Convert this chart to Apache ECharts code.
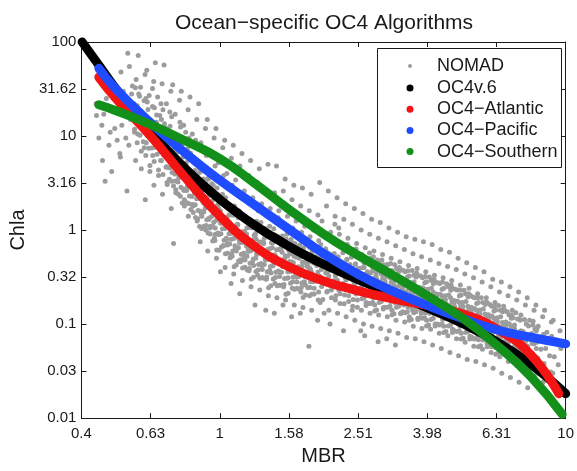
<!DOCTYPE html>
<html><head><meta charset="utf-8">
<script src="https://cdn.jsdelivr.net/npm/echarts@6/dist/echarts.min.js"></script>
<style>html,body{margin:0;padding:0;background:#fff}#c{width:577px;height:471px}</style>
</head><body><div id="c"></div>
<script>
const chartTitle = 'Ocean\u2212specific OC4 Algorithms';
const xName = 'MBR';
const yName = 'Chla';
const xTickLabels = ['0.4','0.63','1','1.58','2.51','3.98','6.31','10'];
const yTickLabels = ['0.01','0.03','0.1','0.32','1','3.16','10','31.62','100'];
const seriesNames = ['NOMAD','OC4v.6','OC4\u2212Atlantic','OC4\u2212Pacific','OC4\u2212Southern'];

// NOMAD in-situ points [MBR, Chla]
const nomadLeft = [
[0.44,16.5],[0.456,13],[0.447,9.5],[0.458,5.5],[0.439,22],
[0.466,3.3],[0.482,11],[0.47,25],[0.478,8],[0.462,17],
[0.489,36],[0.511,20],[0.497,12],[0.514,6.5],[0.492,28],[0.505,9],[0.487,4.2],
[0.518,48],[0.542,76],[0.526,30],[0.545,18],[0.521,13],[0.535,9.5],[0.516,6],[0.539,2.6],[0.528,22],
[0.548,55],[0.573,40],[0.556,28],[0.577,21],[0.552,15],[0.567,11],[0.546,8],[0.571,5.5],[0.559,34],[0.574,19],
[0.581,72],[0.608,45],[0.59,33],[0.611,25],[0.585,19],[0.601,14],[0.579,10.5],[0.605,7.5],[0.593,4.5],[0.609,2.1],[0.583,28],[0.599,17],
[0.615,50],[0.644,38],[0.625,27],[0.647,20],[0.62,15],[0.636,11],[0.613,8.5],[0.64,6.2],[0.628,4.2],[0.645,3],[0.617,23],[0.634,13],[0.639,32],
[0.651,60],[0.681,36],[0.661,26],[0.685,19],[0.656,14],[0.673,10],[0.649,7.6],[0.678,5.5],[0.665,3.8],[0.683,2.4],[0.653,12],[0.671,16.5],[0.676,22],
[0.69,57],[0.722,30],[0.701,22],[0.726,16],[0.695,11.5],[0.714,8.5],[0.688,6.3],[0.719,4.6],[0.704,3.2],[0.724,1.7],[0.692,13.5],[0.711,9.8],[0.717,18],
[0.731,35],[0.765,24],[0.743,17],[0.77,12.5],[0.737,9.2],[0.756,6.8],[0.729,5],[0.761,3.6],[0.746,2.5],[0.767,14],[0.734,10.5],[0.753,7.8],[0.735,0.72],
[0.774,30],[0.81,19],[0.786,13],[0.815,9.5],[0.78,7],[0.8,5.2],[0.772,3.9],[0.806,2.9],[0.79,2.1],[0.811,1.4],[0.777,8.2],[0.797,11],[0.804,4.5],[0.783,6],
[0.82,26],[0.858,15],[0.833,10.5],[0.863,7.6],[0.826,5.8],[0.848,4.3],[0.817,3.3],[0.854,2.5],[0.837,1.8],[0.86,1.25],[0.823,6.6],[0.845,3.7],[0.851,9],
[0.869,22],[0.909,12],[0.882,8.5],[0.914,6.2],[0.875,4.6],[0.898,3.5],[0.866,2.6],[0.904,1.9],[0.887,1.4],[0.911,1.0],[0.871,5.3],[0.895,3],[0.902,2.2],[0.878,0.75],
[0.92,15],[0.963,9.5],[0.935,6.5],[0.969,4.8],[0.927,3.6],[0.952,2.7],[0.918,2.0],[0.958,1.5],[0.939,1.1],[0.965,0.82],[0.923,0.6],[0.948,3.1],[0.955,2.3],[0.931,1.3]
];
const nomadMid = [
[0.975,12],[1.02,7.5],[0.99,5.2],[1.026,3.8],[0.982,2.8],[1.008,2.1],[0.972,1.6],[1.015,1.2],[0.995,0.9],[1.022,0.68],[0.978,0.5],[1.004,0.36],[1.012,1.4],[0.986,1.85],[1.018,2.4],[0.97,1.05],
[1.033,9],[1.08,5.8],[1.048,4],[1.087,3],[1.04,2.2],[1.067,1.65],[1.029,1.25],[1.075,0.95],[1.054,0.72],[1.082,0.55],[1.036,0.4],[1.063,1.45],[1.072,1.05],[1.044,0.82],[1.078,0.27],
[1.094,8],[1.144,4.8],[1.111,3.4],[1.151,2.4],[1.102,1.8],[1.131,1.35],[1.091,1.0],[1.139,0.78],[1.116,0.6],[1.147,0.46],[1.097,0.34],[1.126,1.15],[1.136,0.88],[1.106,0.68],[1.142,0.21],
[1.159,6.5],[1.213,3.8],[1.177,2.6],[1.22,1.9],[1.168,1.4],[1.198,1.05],[1.156,0.8],[1.207,0.62],[1.183,0.48],[1.215,0.37],[1.163,0.29],[1.194,0.9],[1.203,0.7],[1.172,0.55],[1.21,1.2],
[1.228,5.5],[1.284,3.2],[1.246,2.2],[1.292,1.6],[1.236,1.2],[1.269,0.92],[1.224,0.7],[1.278,0.55],[1.253,0.42],[1.287,0.33],[1.231,0.25],[1.264,0.16],[1.274,0.8],[1.241,0.62],[1.282,1.05],
[1.301,4.5],[1.361,2.7],[1.321,1.9],[1.369,1.4],[1.31,1.05],[1.345,0.82],[1.297,0.63],[1.354,0.49],[1.327,0.38],[1.363,0.3],[1.305,0.23],[1.339,0.72],[1.35,0.56],[1.315,1.2],[1.358,0.14],
[1.378,5],[1.441,2.5],[1.399,1.7],[1.45,1.25],[1.388,0.95],[1.424,0.74],[1.373,0.58],[1.434,0.45],[1.406,0.35],[1.444,0.27],[1.382,0.2],[1.419,0.65],[1.43,0.52],[1.393,1.1],[1.438,0.13],
[1.459,4.8],[1.526,2.6],[1.481,1.6],[1.535,1.15],[1.469,0.86],[1.508,0.67],[1.454,0.52],[1.518,0.41],[1.489,0.32],[1.529,0.25],[1.463,0.19],[1.502,0.74],[1.514,0.58],[1.475,1.35],[1.523,0.16],
[1.545,3.5],[1.617,2.1],[1.569,1.4],[1.626,1.05],[1.556,0.8],[1.598,0.63],[1.541,0.5],[1.609,0.4],[1.577,0.31],[1.62,0.24],[1.55,0.18],[1.591,0.7],[1.604,0.56],[1.563,0.9],[1.613,0.12],
[1.637,3],[1.713,1.8],[1.662,1.25],[1.723,0.95],[1.649,0.72],[1.692,0.57],[1.632,0.45],[1.704,0.36],[1.671,0.28],[1.716,0.22],[1.642,0.16],[1.686,0.62],[1.699,0.5],[1.656,0.4],[1.709,0.13],
[1.734,2.8],[1.814,1.6],[1.76,1.1],[1.824,0.85],[1.746,0.65],[1.792,0.52],[1.728,0.41],[1.805,0.33],[1.769,0.26],[1.817,0.2],[1.739,0.15],[1.785,0.56],[1.799,0.45],[1.753,0.36],[1.81,0.058],
[1.837,2.4],[1.922,1.45],[1.865,1.0],[1.933,0.77],[1.85,0.6],[1.899,0.48],[1.831,0.38],[1.912,0.3],[1.875,0.24],[1.925,0.18],[1.843,0.14],[1.892,0.52],[1.907,0.42],[1.858,0.33],[1.918,0.11],
[1.945,3.2],[2.035,1.8],[1.975,1.25],[2.047,0.9],[1.959,0.7],[2.011,0.55],[1.939,0.44],[2.025,0.35],[1.985,0.28],[2.039,0.22],[1.951,0.17],[2.003,0.13],[2.019,0.48],[1.967,0.38],[2.031,0.6]
];
const nomadRight = [
[2.06,2.6],[2.155,1.4],[2.092,0.95],[2.168,0.72],[2.075,0.56],[2.13,0.45],[2.054,0.36],[2.145,0.29],[2.102,0.23],[2.159,0.18],[2.067,0.14],[2.121,0.5],[2.138,0.4],[2.083,0.1],[2.151,1.15],
[2.183,2.2],[2.284,1.3],[2.217,0.9],[2.297,0.68],[2.199,0.52],[2.257,0.42],[2.176,0.34],[2.273,0.27],[2.228,0.21],[2.288,0.165],[2.19,0.13],[2.248,0.46],[2.266,0.37],[2.208,1.05],[2.279,0.085],
[2.312,1.9],[2.418,1.15],[2.347,0.82],[2.433,0.62],[2.328,0.48],[2.39,0.39],[2.305,0.31],[2.407,0.25],[2.359,0.2],[2.423,0.155],[2.319,0.12],[2.381,0.43],[2.4,0.34],[2.338,0.7],[2.414,0.14],
[2.449,1.7],[2.562,1.0],[2.487,0.72],[2.577,0.55],[2.467,0.43],[2.532,0.35],[2.442,0.28],[2.55,0.225],[2.499,0.18],[2.567,0.14],[2.457,0.11],[2.522,0.39],[2.542,0.31],[2.477,0.63],[2.557,0.085],
[2.594,1.5],[2.714,0.9],[2.634,0.65],[2.73,0.5],[2.613,0.4],[2.682,0.32],[2.587,0.26],[2.701,0.21],[2.648,0.17],[2.72,0.13],[2.603,0.1],[2.672,0.36],[2.693,0.29],[2.624,0.075],[2.709,0.57],
[2.748,1.3],[2.874,0.82],[2.79,0.6],[2.891,0.46],[2.767,0.37],[2.841,0.3],[2.739,0.245],[2.86,0.2],[2.804,0.16],[2.88,0.125],[2.756,0.095],[2.829,0.33],[2.852,0.27],[2.779,0.52],[2.869,0.065],
[2.91,1.2],[3.045,0.75],[2.955,0.55],[3.063,0.43],[2.931,0.34],[3.009,0.28],[2.901,0.225],[3.03,0.185],[2.97,0.15],[3.051,0.12],[2.919,0.09],[2.997,0.31],[3.021,0.25],[2.943,0.48],[3.039,0.07],
[3.083,1.05],[3.225,0.68],[3.13,0.5],[3.244,0.39],[3.105,0.31],[3.187,0.255],[3.074,0.21],[3.209,0.17],[3.146,0.14],[3.232,0.11],[3.092,0.085],[3.175,0.28],[3.2,0.23],[3.118,0.44],[3.219,0.06],
[3.266,0.95],[3.417,0.62],[3.317,0.46],[3.437,0.36],[3.29,0.29],[3.377,0.24],[3.256,0.195],[3.4,0.16],[3.333,0.13],[3.424,0.105],[3.276,0.08],[3.363,0.26],[3.39,0.215],[3.303,0.4],[3.41,0.175],
[3.459,0.85],[3.619,0.56],[3.513,0.42],[3.64,0.33],[3.484,0.27],[3.576,0.22],[3.449,0.18],[3.601,0.15],[3.53,0.12],[3.626,0.095],[3.47,0.072],[3.562,0.24],[3.591,0.2],[3.498,0.37],[3.612,0.14],
[3.664,0.8],[3.833,0.52],[3.72,0.39],[3.856,0.31],[3.69,0.25],[3.788,0.205],[3.653,0.17],[3.814,0.14],[3.739,0.115],[3.841,0.09],[3.675,0.07],[3.773,0.225],[3.803,0.185],[3.705,0.35],[3.826,0.13],
[3.881,0.75],[4.061,0.48],[3.941,0.36],[4.085,0.29],[3.909,0.235],[4.013,0.19],[3.87,0.16],[4.041,0.13],[3.961,0.11],[4.069,0.088],[3.894,0.065],[3.997,0.21],[4.029,0.175],[3.925,0.32],[4.053,0.145],
[4.112,0.7],[4.301,0.44],[4.175,0.33],[4.327,0.27],[4.141,0.22],[4.251,0.18],[4.099,0.15],[4.28,0.125],[4.196,0.1],[4.31,0.08],[4.124,0.06],[4.234,0.195],[4.268,0.165],[4.158,0.3],[4.293,0.135],
[4.355,0.62],[4.556,0.41],[4.422,0.31],[4.583,0.25],[4.387,0.2],[4.503,0.165],[4.342,0.14],[4.534,0.115],[4.445,0.095],[4.565,0.075],[4.369,0.055],[4.485,0.18],[4.521,0.15],[4.404,0.28],[4.547,0.125],
[4.614,0.58],[4.827,0.38],[4.685,0.29],[4.855,0.23],[4.647,0.19],[4.77,0.155],[4.6,0.13],[4.803,0.105],[4.708,0.088],[4.836,0.07],[4.628,0.05],[4.751,0.17],[4.789,0.14],[4.666,0.26],[4.817,0.115],
[4.887,0.5],[5.112,0.34],[4.962,0.26],[5.142,0.21],[4.922,0.17],[5.052,0.14],[4.872,0.12],[5.087,0.098],[4.987,0.08],[5.122,0.064],[4.902,0.046],[5.032,0.155],[5.072,0.128],[4.942,0.23],[5.102,0.108],
[5.176,0.45],[5.415,0.31],[5.256,0.24],[5.447,0.19],[5.213,0.155],[5.351,0.13],[5.16,0.11],[5.389,0.09],[5.282,0.074],[5.426,0.058],[5.192,0.042],[5.33,0.14],[5.373,0.118],[5.235,0.21],[5.405,0.1],
[5.482,0.4],[5.735,0.28],[5.567,0.21],[5.769,0.17],[5.522,0.14],[5.668,0.118],[5.466,0.1],[5.707,0.083],[5.595,0.068],[5.747,0.054],[5.499,0.04],[5.645,0.128],[5.69,0.108],[5.545,0.19],[5.725,0.092],
[5.808,0.36],[6.076,0.25],[5.897,0.19],[6.112,0.155],[5.85,0.128],[6.005,0.107],[5.79,0.09],[6.046,0.075],[5.927,0.062],[6.088,0.05],[5.826,0.037],[5.981,0.116],[6.028,0.098],[5.874,0.17],[6.064,0.083],
[6.152,0.3],[6.436,0.22],[6.247,0.17],[6.474,0.14],[6.196,0.115],[6.36,0.096],[6.133,0.081],[6.405,0.068],[6.278,0.056],[6.449,0.045],[6.171,0.034],[6.335,0.105],[6.386,0.088],[6.222,0.155],[6.424,0.075],
[6.516,0.28],[6.817,0.2],[6.616,0.155],[6.857,0.126],[6.563,0.104],[6.736,0.087],[6.496,0.073],[6.783,0.061],[6.65,0.05],[6.83,0.04],[6.536,0.03],[6.71,0.095],[6.763,0.08],[6.59,0.14],
[6.902,0.25],[7.221,0.18],[7.008,0.14],[7.263,0.113],[6.952,0.093],[7.136,0.078],[6.881,0.066],[7.185,0.055],[7.044,0.045],[7.235,0.036],[6.923,0.027],[7.107,0.085],[7.164,0.072],[6.98,0.125],
[7.312,0.22],[7.649,0.16],[7.424,0.125],[7.694,0.1],[7.364,0.083],[7.559,0.07],[7.289,0.059],[7.611,0.049],[7.461,0.04],[7.664,0.032],[7.334,0.024],[7.529,0.076],[7.589,0.064],[7.394,0.11],
[7.744,0.19],[8.102,0.14],[7.864,0.11],[8.15,0.088],[7.8,0.073],[8.007,0.062],[7.72,0.052],[8.062,0.043],[7.903,0.035],[8.118,0.028],[7.768,0.021],[7.975,0.067],[8.04,0.098],
[8.204,0.16],[8.582,0.12],[8.33,0.095],[8.633,0.078],[8.263,0.064],[8.481,0.054],[8.179,0.045],[8.54,0.037],[8.372,0.03],[8.599,0.024],[8.229,0.085],
[8.69,0.14],[9.091,0.105],[8.824,0.082],[9.145,0.067],[8.753,0.055],[8.984,0.046],[8.663,0.038],[9.047,0.031],[8.868,0.025],[9.109,0.074],
[9.205,0.11],[9.63,0.085],[9.347,0.068],[9.686,0.055],[9.271,0.045],[9.517,0.037],[9.177,0.03],[9.583,0.06]
];
// denser core of the NOMAD cloud
const nomadCore = [
[0.57,32.7],[0.586,26.5],[0.565,22.1],[0.591,18.5],[0.574,15.9],[0.582,13.7],[0.567,11.8],[0.588,10.2],[0.577,8.5],[0.593,6.9],
[0.604,23.7],[0.62,19.2],[0.598,16.1],[0.625,13.6],[0.608,11.7],[0.617,10.1],[0.601,8.7],[0.623,7.4],[0.611,6.2],[0.628,4.85],
[0.639,20.6],[0.657,16.7],[0.633,14.0],[0.662,11.7],[0.644,10.0],[0.653,8.65],[0.636,7.45],[0.659,6.41],[0.646,5.36],[0.665,4.35],
[0.678,15.0],[0.696,12.1],[0.671,10.1],[0.702,8.6],[0.683,7.4],[0.692,6.4],[0.674,5.5],[0.699,4.66],[0.685,3.89],[0.705,3.06],
[0.718,12.7],[0.738,10.3],[0.711,8.6],[0.744,7.2],[0.723,6.2],[0.733,5.33],[0.714,4.59],[0.741,3.95],[0.726,3.3],[0.746,2.68],
[0.76,8.8],[0.781,7.1],[0.753,5.97],[0.787,5.07],[0.766,4.37],[0.777,3.75],[0.757,3.24],[0.784,2.74],[0.769,2.29],[0.79,1.8],
[0.806,7.3],[0.828,5.93],[0.798,4.95],[0.834,4.14],[0.811,3.56],[0.823,3.07],[0.802,2.64],[0.831,2.28],[0.815,1.9],[0.838,1.54],
[0.853,5.07],[0.876,4.11],[0.845,3.44],[0.883,2.92],[0.859,2.51],[0.871,2.16],[0.849,1.86],[0.88,1.58],[0.863,1.32],[0.887,1.04],
[0.903,4.31],[0.928,3.49],[0.895,2.92],[0.935,2.44],[0.91,2.1],[0.922,1.81],[0.899,1.56],[0.932,1.34],[0.913,1.12],[0.939,0.908],
[0.957,2.99],[0.984,2.42],[0.949,2.02],[0.991,1.72],[0.964,1.48],[0.978,1.27],[0.953,1.1],[0.988,0.929],[0.968,0.776],[0.995,0.611],
[1.014,2.25],[1.041,1.87],[1.004,1.6],[1.05,1.36],[1.021,1.19],[1.035,1.04],[1.008,0.914],[1.045,0.8],[1.025,0.682],[1.054,0.568],
[1.074,1.73],[1.103,1.44],[1.064,1.22],[1.112,1.06],[1.081,0.927],[1.097,0.813],[1.068,0.711],[1.107,0.615],[1.086,0.525],[1.116,0.425],
[1.138,1.59],[1.169,1.32],[1.127,1.13],[1.178,0.964],[1.146,0.843],[1.162,0.738],[1.132,0.647],[1.173,0.566],[1.15,0.483],[1.183,0.402],
[1.205,1.28],[1.238,1.06],[1.194,0.908],[1.247,0.785],[1.213,0.687],[1.23,0.603],[1.199,0.527],[1.243,0.456],[1.218,0.389],[1.252,0.315],
[1.277,1.24],[1.312,1.03],[1.265,0.877],[1.322,0.748],[1.286,0.655],[1.304,0.573],[1.27,0.502],[1.317,0.44],[1.291,0.375],[1.327,0.312],
[1.351,1.04],[1.388,0.865],[1.339,0.738],[1.399,0.638],[1.361,0.558],[1.38,0.49],[1.345,0.429],[1.394,0.371],[1.367,0.316],[1.405,0.256],
[1.432,1.03],[1.471,0.855],[1.419,0.73],[1.483,0.622],[1.442,0.545],[1.463,0.476],[1.425,0.418],[1.477,0.366],[1.448,0.312],[1.489,0.259],
[1.517,0.867],[1.558,0.719],[1.503,0.614],[1.571,0.531],[1.528,0.465],[1.549,0.407],[1.509,0.356],[1.565,0.308],[1.534,0.263],[1.577,0.213],
[1.607,0.794],[1.651,0.676],[1.592,0.589],[1.664,0.513],[1.618,0.457],[1.641,0.407],[1.598,0.363],[1.657,0.324],[1.625,0.282],[1.67,0.24],
[1.702,0.692],[1.749,0.589],[1.687,0.513],[1.763,0.452],[1.714,0.403],[1.738,0.359],[1.693,0.32],[1.756,0.282],[1.721,0.245],[1.769,0.204],
[1.803,0.692],[1.852,0.589],[1.786,0.513],[1.867,0.447],[1.815,0.398],[1.841,0.355],[1.793,0.316],[1.859,0.282],[1.823,0.245],[1.874,0.209],
[1.91,0.617],[1.962,0.525],[1.892,0.457],[1.978,0.403],[1.923,0.359],[1.951,0.32],[1.9,0.285],[1.97,0.251],[1.931,0.219],[1.986,0.182],
[2.023,0.631],[2.079,0.537],[2.005,0.468],[2.095,0.407],[2.038,0.363],[2.066,0.324],[2.013,0.288],[2.087,0.257],[2.046,0.224],[2.103,0.191],
[2.142,0.562],[2.201,0.479],[2.123,0.417],[2.219,0.367],[2.158,0.327],[2.188,0.292],[2.132,0.26],[2.21,0.229],[2.166,0.2],[2.227,0.166],
[2.269,0.575],[2.332,0.49],[2.249,0.427],[2.35,0.372],[2.286,0.331],[2.318,0.295],[2.258,0.263],[2.341,0.234],[2.295,0.204],[2.359,0.174],
[2.403,0.513],[2.469,0.437],[2.381,0.38],[2.489,0.335],[2.42,0.299],[2.455,0.266],[2.391,0.237],[2.479,0.209],[2.43,0.182],[2.499,0.151],
[2.546,0.525],[2.616,0.447],[2.523,0.389],[2.637,0.339],[2.564,0.302],[2.601,0.269],[2.533,0.24],[2.626,0.214],[2.575,0.186],[2.647,0.158],
[2.697,0.468],[2.771,0.398],[2.672,0.347],[2.793,0.305],[2.716,0.272],[2.754,0.243],[2.683,0.216],[2.782,0.191],[2.727,0.166],[2.804,0.138],
[2.857,0.479],[2.935,0.407],[2.83,0.355],[2.958,0.309],[2.877,0.275],[2.917,0.245],[2.842,0.219],[2.946,0.195],[2.888,0.17],[2.97,0.145],
[3.026,0.427],[3.109,0.363],[2.998,0.316],[3.133,0.279],[3.047,0.248],[3.09,0.221],[3.011,0.197],[3.121,0.174],[3.06,0.151],[3.146,0.126],
[3.205,0.427],[3.293,0.363],[3.176,0.316],[3.319,0.275],[3.228,0.245],[3.274,0.219],[3.189,0.195],[3.306,0.174],[3.241,0.151],[3.332,0.129],
[3.395,0.372],[3.488,0.316],[3.364,0.275],[3.516,0.243],[3.419,0.216],[3.468,0.193],[3.378,0.172],[3.502,0.151],[3.433,0.132],[3.53,0.11],
[3.597,0.372],[3.696,0.316],[3.564,0.275],[3.725,0.24],[3.623,0.214],[3.674,0.191],[3.579,0.17],[3.71,0.151],[3.637,0.132],[3.74,0.112],
[3.81,0.324],[3.914,0.275],[3.775,0.24],[3.945,0.211],[3.837,0.188],[3.891,0.168],[3.791,0.15],[3.93,0.132],[3.853,0.115],[3.961,0.0955],
[4.036,0.316],[4.146,0.269],[3.999,0.234],[4.179,0.204],[4.064,0.182],[4.122,0.162],[4.015,0.145],[4.163,0.129],[4.081,0.112],[4.195,0.0955],
[4.275,0.275],[4.392,0.234],[4.236,0.204],[4.427,0.18],[4.305,0.16],[4.366,0.143],[4.253,0.127],[4.409,0.112],[4.323,0.0977],[4.444,0.0813],
[4.528,0.269],[4.652,0.229],[4.487,0.2],[4.689,0.174],[4.56,0.155],[4.625,0.138],[4.505,0.123],[4.671,0.11],[4.579,0.0955],[4.707,0.0813],
[4.797,0.234],[4.928,0.2],[4.753,0.174],[4.967,0.153],[4.831,0.136],[4.899,0.122],[4.773,0.108],[4.948,0.0955],[4.851,0.0832],[4.987,0.0692],
[5.081,0.229],[5.22,0.195],[5.034,0.17],[5.261,0.148],[5.117,0.132],[5.189,0.117],[5.055,0.105],[5.241,0.0933],[5.137,0.0813],[5.282,0.0692],
[5.382,0.195],[5.53,0.166],[5.333,0.145],[5.573,0.127],[5.42,0.114],[5.497,0.101],[5.355,0.0902],[5.551,0.0794],[5.442,0.0692],[5.595,0.0575],
[5.701,0.191],[5.857,0.162],[5.649,0.141],[5.904,0.123],[5.742,0.11],[5.823,0.0977],[5.672,0.0871],[5.881,0.0776],[5.765,0.0676],[5.927,0.0575],
[6.039,0.162],[6.205,0.138],[5.984,0.12],[6.254,0.106],[6.082,0.0944],[6.168,0.0841],[6.008,0.075],[6.229,0.0661],[6.106,0.0575],[6.278,0.0479],
[6.397,0.158],[6.572,0.135],[6.338,0.117],[6.624,0.102],[6.442,0.0912],[6.533,0.0813],[6.364,0.0724],[6.598,0.0646],[6.468,0.0562],[6.65,0.0479],
[6.776,0.135],[6.962,0.115],[6.714,0.1],[7.017,0.0881],[6.824,0.0785],[6.92,0.07],[6.741,0.0624],[6.989,0.055],[6.851,0.0479],[7.044,0.0398],
[7.177,0.132],[7.373,0.112],[7.111,0.0977],[7.432,0.0851],[7.228,0.0759],[7.33,0.0676],[7.14,0.0603],[7.403,0.0537],[7.257,0.0468],[7.461,0.0398],
[7.602,0.112],[7.811,0.0955],[7.533,0.0832],[7.873,0.0733],[7.656,0.0653],[7.764,0.0582],[7.564,0.0519],[7.842,0.0457],[7.687,0.0398],[7.903,0.0331],
[8.052,0.107],[8.273,0.0912],[7.979,0.0794],[8.339,0.0692],[8.11,0.0617],[8.224,0.055],[8.012,0.049],[8.306,0.0437],[8.142,0.038],[8.371,0.0324]
];
// densest band of the cloud (between the curves)
const nomadBand = [
[0.724,10.2],[0.707,8.39],[0.732,7.11],[0.711,6.19],[0.72,5.4],[0.702,4.7],[0.728,4.09],[0.715,3.47],[0.735,2.94],
[0.768,6.92],[0.749,5.78],[0.775,4.97],[0.753,4.39],[0.763,3.82],[0.744,3.33],[0.772,2.86],[0.758,2.42],[0.779,1.94],
[0.813,5.73],[0.793,4.72],[0.821,4.0],[0.798,3.48],[0.808,3.03],[0.788,2.64],[0.817,2.3],[0.803,1.95],[0.825,1.65],
[0.862,3.89],[0.84,3.25],[0.87,2.79],[0.845,2.47],[0.857,2.15],[0.835,1.87],[0.866,1.61],[0.851,1.36],[0.874,1.09],
[0.912,3.22],[0.89,2.65],[0.921,2.25],[0.895,1.96],[0.907,1.71],[0.884,1.49],[0.917,1.29],[0.9,1.1],[0.925,0.929],
[0.967,2.19],[0.943,1.83],[0.976,1.57],[0.948,1.39],[0.961,1.21],[0.937,1.05],[0.971,0.904],[0.954,0.766],[0.98,0.614],
[1.024,1.94],[0.999,1.6],[1.034,1.36],[1.005,1.18],[1.018,1.03],[0.993,0.895],[1.029,0.78],[1.011,0.661],[1.038,0.56],
[1.085,1.45],[1.058,1.21],[1.095,1.04],[1.064,0.916],[1.078,0.798],[1.051,0.695],[1.09,0.597],[1.071,0.506],[1.1,0.406],
[1.148,1.37],[1.12,1.13],[1.16,0.959],[1.127,0.836],[1.141,0.728],[1.113,0.634],[1.154,0.552],[1.133,0.468],[1.164,0.396],
[1.217,1.07],[1.187,0.895],[1.229,0.769],[1.194,0.679],[1.21,0.592],[1.179,0.515],[1.223,0.443],[1.201,0.375],[1.234,0.301],
[1.289,1.07],[1.257,0.879],[1.301,0.745],[1.264,0.649],[1.281,0.565],[1.249,0.492],[1.295,0.429],[1.272,0.363],[1.306,0.308],
[1.365,0.871],[1.331,0.728],[1.379,0.625],[1.339,0.552],[1.357,0.481],[1.323,0.419],[1.372,0.36],[1.348,0.305],[1.384,0.244],
[1.446,0.887],[1.41,0.731],[1.46,0.619],[1.419,0.54],[1.437,0.47],[1.401,0.409],[1.453,0.356],[1.427,0.302],[1.466,0.256],
[1.532,0.741],[1.494,0.619],[1.547,0.532],[1.503,0.47],[1.523,0.409],[1.485,0.356],[1.539,0.306],[1.512,0.259],[1.553,0.208],
[1.622,0.731],[1.582,0.612],[1.639,0.526],[1.592,0.463],[1.613,0.408],[1.573,0.36],[1.631,0.317],[1.602,0.272],[1.645,0.234],
[1.718,0.617],[1.676,0.524],[1.735,0.455],[1.686,0.406],[1.708,0.357],[1.666,0.315],[1.727,0.274],[1.696,0.236],[1.742,0.192],
[1.82,0.652],[1.775,0.546],[1.838,0.469],[1.786,0.413],[1.809,0.364],[1.764,0.321],[1.829,0.282],[1.797,0.243],[1.845,0.208],
[2.648,0.468],[2.582,0.398],[2.674,0.347],[2.598,0.309],[2.632,0.275],[2.566,0.245],[2.661,0.219],[2.614,0.191],[2.684,0.166],
[2.803,0.407],[2.734,0.351],[2.831,0.309],[2.75,0.279],[2.786,0.248],[2.717,0.221],[2.817,0.195],[2.767,0.17],[2.842,0.141],
[2.969,0.427],[2.896,0.363],[2.999,0.316],[2.914,0.282],[2.952,0.251],[2.878,0.224],[2.984,0.2],[2.931,0.174],[3.011,0.151],
[3.146,0.372],[3.068,0.32],[3.177,0.282],[3.087,0.254],[3.127,0.226],[3.049,0.202],[3.162,0.178],[3.106,0.155],[3.19,0.129],
[3.333,0.38],[3.25,0.324],[3.366,0.282],[3.27,0.251],[3.313,0.224],[3.23,0.2],[3.349,0.178],[3.29,0.155],[3.379,0.135],
[3.53,0.324],[3.443,0.279],[3.565,0.245],[3.464,0.221],[3.509,0.197],[3.422,0.176],[3.548,0.155],[3.485,0.135],[3.579,0.112],
[3.739,0.331],[3.647,0.282],[3.776,0.245],[3.669,0.219],[3.717,0.195],[3.624,0.174],[3.758,0.155],[3.691,0.135],[3.791,0.117],
[3.961,0.282],[3.863,0.243],[4.001,0.214],[3.887,0.193],[3.938,0.172],[3.84,0.153],[3.981,0.135],[3.91,0.117],[4.016,0.0977],
[4.196,0.282],[4.092,0.24],[4.238,0.209],[4.117,0.186],[4.171,0.166],[4.067,0.148],[4.217,0.132],[4.142,0.115],[4.255,0.1],
[4.445,0.24],[4.335,0.207],[4.489,0.182],[4.361,0.164],[4.418,0.146],[4.308,0.13],[4.467,0.115],[4.387,0.1],[4.506,0.0832],
[4.708,0.24],[4.591,0.204],[4.755,0.178],[4.619,0.158],[4.68,0.141],[4.563,0.126],[4.731,0.112],[4.647,0.0977],[4.773,0.0851],
[4.987,0.204],[4.864,0.176],[5.037,0.155],[4.894,0.14],[4.958,0.124],[4.834,0.111],[5.012,0.0977],[4.923,0.0851],[5.057,0.0708],
[5.283,0.204],[5.152,0.174],[5.335,0.151],[5.184,0.135],[5.252,0.12],[5.121,0.107],[5.309,0.0955],[5.215,0.0832],[5.356,0.0724],
[5.596,0.17],[5.457,0.146],[5.651,0.129],[5.491,0.116],[5.563,0.104],[5.424,0.0923],[5.624,0.0813],[5.524,0.0708],[5.674,0.0589],
[5.928,0.17],[5.781,0.145],[5.987,0.126],[5.816,0.112],[5.893,0.1],[5.746,0.0891],[5.957,0.0794],[5.851,0.0692],[6.01,0.0603],
[6.279,0.141],[6.123,0.122],[6.341,0.107],[6.161,0.0966],[6.242,0.0861],[6.086,0.0767],[6.31,0.0676],[6.198,0.0589],[6.366,0.049],
[6.651,0.141],[6.487,0.12],[6.717,0.105],[6.526,0.0933],[6.612,0.0832],[6.447,0.0741],[6.684,0.0661],[6.566,0.0575],[6.744,0.0501],
[7.046,0.117],[6.871,0.101],[7.116,0.0891],[6.913,0.0804],[7.004,0.0716],[6.829,0.0638],[7.081,0.0562],[6.955,0.049],[7.144,0.0407]
];

// Algorithm curves [MBR, Chla]
const oc4v6 = [[0.4,100],[0.447,56.6],[0.501,31.6],[0.562,18.3],[0.631,11.1],[0.708,6.94],[0.794,4.52],[0.891,3.05],[1.0,2.12],[1.122,1.53],[1.259,1.13],[1.413,0.861],[1.585,0.671],[1.778,0.534],[1.995,0.433],[2.512,0.297],[3.162,0.21],[3.981,0.149],[5.012,0.102],[6.31,0.0651],[7.943,0.0372],[10,0.0182]];
const oc4Atlantic = [[0.447,42.2],[0.501,25.1],[0.631,10.0],[0.794,3.63],[1.0,1.41],[1.259,0.676],[1.585,0.407],[1.995,0.288],[2.512,0.226],[3.162,0.186],[3.981,0.158],[5.012,0.129],[6.31,0.0891],[7.943,0.0468],[9.55,0.0182]];
const oc4Pacific = [[0.447,52.5],[0.501,31.6],[0.631,13.8],[0.794,6.6],[1.0,3.39],[1.259,1.86],[1.585,1.02],[1.995,0.562],[2.512,0.339],[3.162,0.224],[3.981,0.158],[5.012,0.115],[6.31,0.087],[7.943,0.0724],[10,0.0615]];
const oc4Southern = [[0.447,21.5],[0.501,18.6],[0.631,13.2],[0.794,8.9],[1.0,5.75],[1.259,3.16],[1.585,1.66],[1.995,0.91],[2.512,0.537],[3.162,0.331],[3.981,0.2],[5.012,0.117],[6.31,0.06],[7.943,0.0275],[9.77,0.011]];

const colors = ['#9c9c9c','#000000','#f41414','#1f4cff','#12901a'];
const FONT = 'Liberation Sans, Arial, Helvetica, sans-serif';
const X_MIN = -0.4, X_MAX = 1, X_STEP = 0.2;
const Y_MIN = -2, Y_MAX = 2, Y_STEP = 0.5;
const lg = arr => arr.map(p => [Math.log10(p[0]), Math.log10(p[1])]);
const nomad = nomadLeft.concat(nomadMid, nomadRight, nomadCore, nomadBand);

const chart = echarts.init(document.getElementById('c'), null, {renderer: 'canvas'});
const axisCommon = {
  axisLine: {show: true, onZero: false, lineStyle: {color: '#1a1a1a', width: 1}},
  axisTick: {show: true, inside: true, length: 5, lineStyle: {color: '#1a1a1a'}},
  splitLine: {show: false}
};
const lineSeries = (name, data, color) => ({
  name, type: 'line', data: lg(data), smooth: true, showSymbol: false, symbol: 'none',
  clip: false, lineStyle: {width: 9, color, cap: 'round', join: 'round'}, itemStyle: {color},
  animation: false, silent: true
});
const legendText = {fontFamily: FONT, fontSize: 18, lineHeight: 18, color: '#1a1a1a'};
chart.setOption({
  animation: false,
  backgroundColor: '#fff',
  title: {text: chartTitle, left: 319, top: 8, textAlign: 'center',
    textStyle: {fontFamily: FONT, fontSize: 21, fontWeight: 'normal', color: '#1a1a1a'}},
  grid: {left: 80, right: 9, top: 42, bottom: 46, containLabel: false},
  graphic: [{type: 'rect', z: 3, shape: {x: 377.5, y: 48.5, width: 184, height: 119},
    style: {fill: '#fff', stroke: '#1a1a1a', lineWidth: 1}}],
  legend: [
    {data: [{name: seriesNames[0], icon: 'circle'}], orient: 'vertical', left: 408, top: 57, padding: 0,
     itemWidth: 4, itemHeight: 4, z: 6, selectedMode: false,
     textStyle: Object.assign({padding: [0, 0, 0, 20]}, legendText)},
    {data: seriesNames.slice(1).map(n => ({name: n, icon: 'circle'})), orient: 'vertical', left: 406.5, top: 79, padding: 0,
     itemWidth: 7, itemHeight: 7, itemGap: 3.2, z: 6, selectedMode: false,
     textStyle: Object.assign({padding: [0, 0, 0, 18.5]}, legendText)}
  ],
  xAxis: [
    Object.assign({type: 'value', min: X_MIN, max: X_MAX, interval: X_STEP, position: 'bottom',
      name: xName, nameLocation: 'middle', nameGap: 23,
      nameTextStyle: {fontFamily: FONT, fontSize: 20, color: '#1a1a1a'},
      axisLabel: {fontFamily: FONT, fontSize: 15, color: '#1a1a1a', margin: 8,
        formatter: v => xTickLabels[Math.round((v - X_MIN) / X_STEP)]}}, axisCommon),
    Object.assign({type: 'value', min: X_MIN, max: X_MAX, interval: X_STEP, position: 'top',
      axisLabel: {show: false}}, axisCommon)
  ],
  yAxis: [
    Object.assign({type: 'value', min: Y_MIN, max: Y_MAX, interval: Y_STEP, position: 'left',
      name: yName, nameLocation: 'middle', nameGap: 41,
      nameTextStyle: {fontFamily: FONT, fontSize: 20, color: '#1a1a1a'},
      axisLabel: {fontFamily: FONT, fontSize: 15, color: '#1a1a1a', margin: 5,
        formatter: v => yTickLabels[Math.round((v - Y_MIN) / Y_STEP)]}}, axisCommon),
    Object.assign({type: 'value', min: Y_MIN, max: Y_MAX, interval: Y_STEP, position: 'right',
      axisLabel: {show: false}}, axisCommon)
  ],
  series: [
    {name: seriesNames[0], type: 'scatter', data: lg(nomad), symbolSize: 5, silent: true,
     itemStyle: {color: colors[0], opacity: 1}, animation: false},
    lineSeries(seriesNames[1], oc4v6, colors[1]),
    lineSeries(seriesNames[2], oc4Atlantic, colors[2]),
    lineSeries(seriesNames[3], oc4Pacific, colors[3]),
    lineSeries(seriesNames[4], oc4Southern, colors[4])
  ]
});
</script></body></html>
